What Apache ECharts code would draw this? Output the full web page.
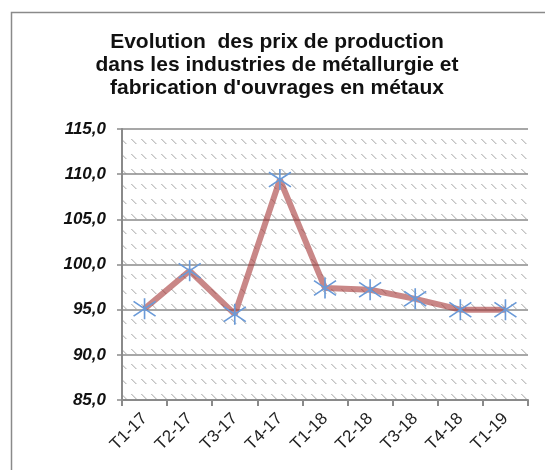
<!DOCTYPE html>
<html><head><meta charset="utf-8">
<script src="https://cdn.jsdelivr.net/npm/echarts@6/dist/echarts.min.js"></script>
<style>html,body{margin:0;padding:0;background:#fff}#c{width:545px;height:470px}</style>
</head><body><div id="c"></div>
<script>
const categories = ['T1-17','T2-17','T3-17','T4-17','T1-18','T2-18','T3-18','T4-18','T1-19'];
const values = [95.1, 99.3, 94.5, 109.4, 97.4, 97.2, 96.2, 95.0, 95.0];
const titleLines = ['Evolution  des prix de production','dans les industries de métallurgie et',"fabrication d'ouvrages en métaux"];

// hatch pattern (dashed downward diagonal)
const pc = document.createElement('canvas');
pc.width = 10; pc.height = 15;
const g = pc.getContext('2d');
g.fillStyle = '#fff'; g.fillRect(0,0,10,15);
g.fillStyle = '#c4c4c4';
for (let i = 0; i < 5; i++) { g.fillRect(i+1, i+4, 1, 1); }
g.fillStyle = '#dedede';
for (let i = 0; i < 5; i++) { g.fillRect(i+2, i+4, 1, 1); }

const chart = echarts.init(document.getElementById('c'), null, {renderer:'canvas'});
chart.setOption({
  animation:false,
  title:{text:titleLines.join('\n'), left:272, top:26, textAlign:'center',
    textStyle:{fontFamily:'Liberation Sans, Arial', fontWeight:'bold', fontSize:21, lineHeight:23, color:'#111'}},
  graphic:[{type:'rect', shape:{x:11.5,y:12.5,width:560,height:500}, style:{fill:null, stroke:'#8a8a8a', lineWidth:1.5}, silent:true, z:-1}],
  grid:{left:122, top:129, width:406, height:271, show:true, backgroundColor:{image:pc, repeat:'repeat'}, borderWidth:0},
  xAxis:{type:'category', data:categories, boundaryGap:true,
    axisLine:{lineStyle:{color:'#8a8a8a', width:2}},
    axisTick:{show:true, length:6, lineStyle:{color:'#8a8a8a', width:2}},
    axisLabel:{rotate:45, fontFamily:'Liberation Sans, Arial', fontSize:17, color:'#222', margin:16, interval:0}},
  yAxis:{type:'value', min:85, max:115, interval:5,
    axisLine:{show:true, lineStyle:{color:'#8a8a8a', width:2}},
    axisTick:{show:true, length:5, lineStyle:{color:'#8a8a8a', width:1.5}},
    splitLine:{lineStyle:{color:'#8a8a8a', width:1.5}},
    axisLabel:{formatter:v=>v.toFixed(1).replace('.',','), fontFamily:'Liberation Sans, Arial', fontSize:17, fontWeight:'bold', fontStyle:'italic', color:'#111', margin:16}},
  series:[{type:'line', data:values, smooth:false,
    lineStyle:{color:'rgba(165,55,55,0.6)', width:6},
    symbol:'path://M0,-10L0,10M-10,-7L10,7M-10,7L10,-7', symbolSize:[22,21],
    itemStyle:{color:'rgba(0,0,0,0)', borderColor:'#6a9ad8', borderWidth:1.6}, z:3}]
});
</script></body></html>
